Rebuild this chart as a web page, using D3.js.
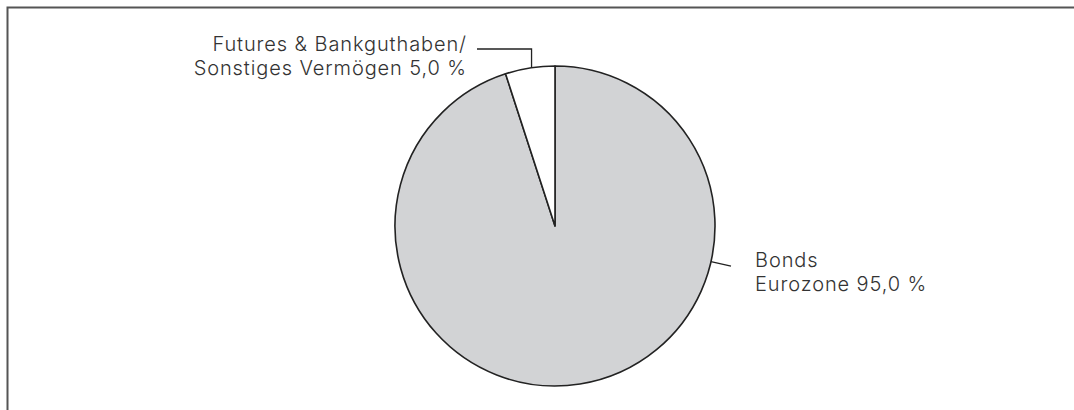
<!DOCTYPE html>
<html>
	<head>
		<meta charset="utf-8">
		<style>
			body { margin: 0; background: #fff; }
			text { font-family: Inter, Roboto, sans-serif; font-weight: 300; fill: #333; letter-spacing: 0.9px; }
		</style>
	</head>
	<body>
		<div id="chart"></div>
		<script src="https://d3js.org/d3.v7.min.js" charset="utf-8"></script>
		<script>
		var categories = ["Bonds Eurozone", "Futures & Bankguthaben/ Sonstiges Vermögen"];
		var values = [95.0, 5.0];
		var labels = [["Bonds", "Eurozone 95,0 %"], ["Futures & Bankguthaben/", "Sonstiges Vermögen 5,0 %"]];
		var colors = ["#d2d3d5", "#ffffff"];

		var width = 1074,
				height = 410;

		var svg = d3.select("#chart")
			.append("svg")
				.attr("width", width)
				.attr("height", height);

		// frame: left and top only
		svg.append("path")
			.attr("d", "M7.5,410 V7.5 H1074")
			.attr("fill", "none")
			.attr("stroke", "#555")
			.attr("stroke-width", 2);

		var cx = 555, cy = 226, r = 160;

		var pie = d3.pie().sort(null).value(function(d) { return d; });
		var arcs = pie(values);
		var arc = d3.arc().innerRadius(0).outerRadius(r);

		var g = svg.append("g")
				.attr("transform", "translate(" + cx + "," + cy + ")");

		g.selectAll("path.slice")
			.data(arcs)
			.enter().append("path")
				.attr("class", "slice")
				.attr("d", arc)
				.attr("fill", function(d, i) { return colors[i]; })
				.attr("stroke", "#222")
				.attr("stroke-width", 1.6)
				.attr("stroke-linejoin", "round");

		// leader for the small slice: up from its arc, then left to the label
		var a1 = (arcs[1].startAngle + arcs[1].endAngle) / 2 + 0.01;
		var lx1 = r * Math.sin(a1), ly1 = -r * Math.cos(a1);
		g.append("path")
			.attr("d", "M" + lx1 + "," + ly1 + " V" + (49 - cy) + " H" + (477 - cx))
			.attr("fill", "none")
			.attr("stroke", "#222")
			.attr("stroke-width", 1.3);

		// leader for the big slice, on the right side
		var a0 = 1.795;
		var bx = r * Math.sin(a0), by = -r * Math.cos(a0);
		g.append("line")
			.attr("x1", bx).attr("y1", by)
			.attr("x2", bx + 20).attr("y2", by + 4.5)
			.attr("stroke", "#222")
			.attr("stroke-width", 1.3);

		var t1 = svg.append("text")
				.attr("x", 467)
				.attr("y", 51)
				.attr("text-anchor", "end")
				.style("font-size", "20px");
		t1.selectAll("tspan").data(labels[1]).enter().append("tspan")
			.attr("x", 467)
			.attr("dy", function(d, i) { return i ? 24 : 0; })
			.text(function(d) { return d; });

		var t0 = svg.append("text")
				.attr("x", 755)
				.attr("y", 267)
				.style("font-size", "20px");
		t0.selectAll("tspan").data(labels[0]).enter().append("tspan")
			.attr("x", 755)
			.attr("dy", function(d, i) { return i ? 23.5 : 0; })
			.text(function(d) { return d; });
		</script>
	</body>
</html>
